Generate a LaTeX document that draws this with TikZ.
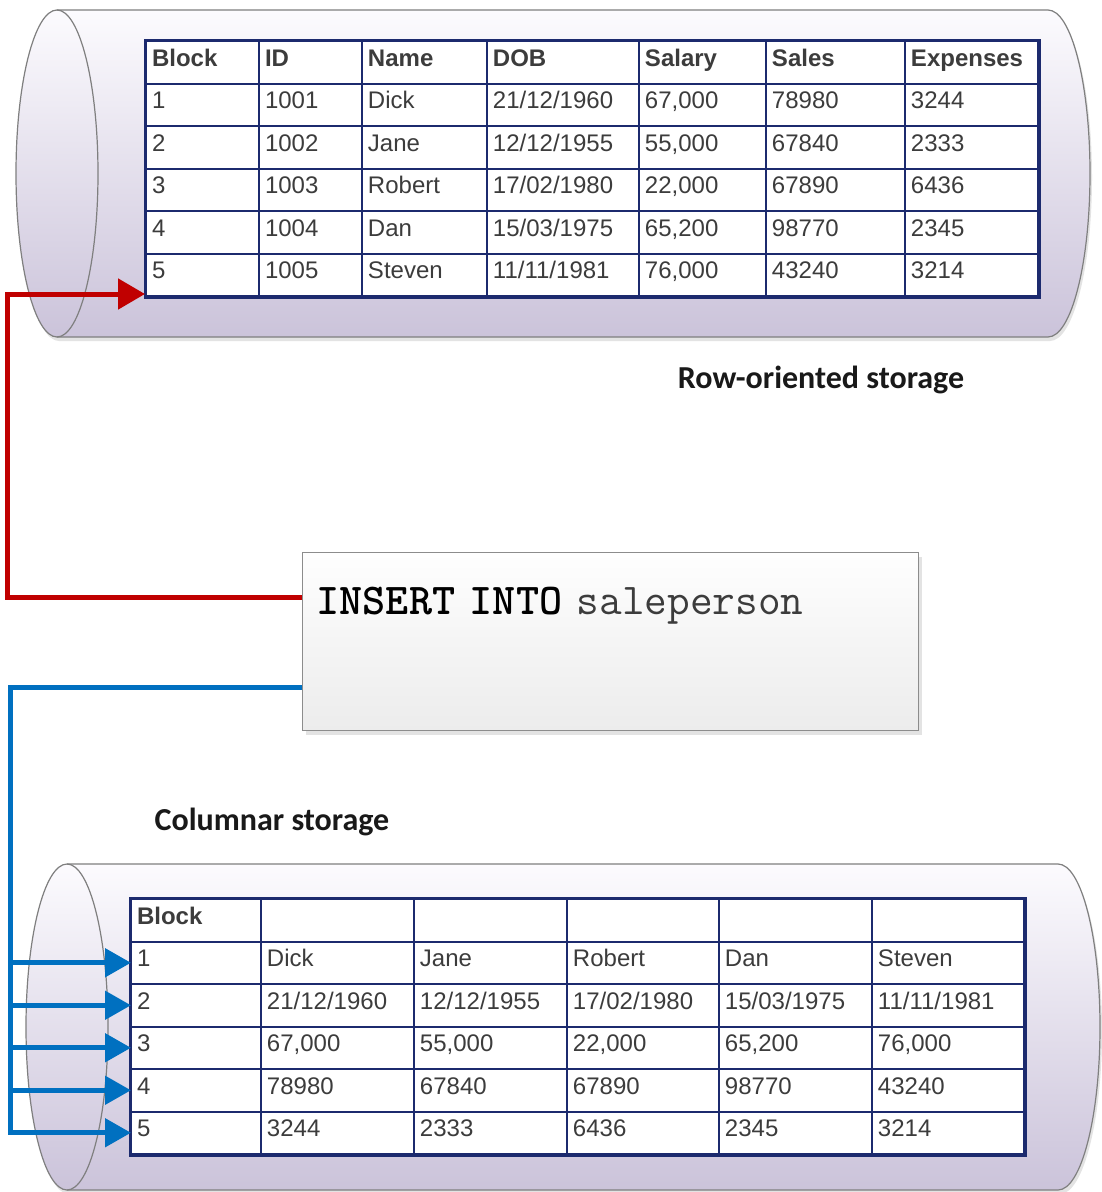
\documentclass[tikz,border=0pt]{standalone}
\usepackage{fontspec}
\setmainfont{Liberation Sans}
\newfontfamily\lblfont{Carlito}
\usepackage{tikz}
\usepackage{xcolor}
\usetikzlibrary{arrows.meta,positioning,matrix,calc,shadows}
\definecolor{tabnavy} {HTML}{1C2A6E}
\definecolor{cellink} {HTML}{3C3C3C}
\definecolor{drumtop} {HTML}{FCFBFE}
\definecolor{drumbot} {HTML}{CBC3DA}
\definecolor{drumline}{HTML}{7F7F7F}
\definecolor{qrytop}  {HTML}{FEFEFE}
\definecolor{qrybot}  {HTML}{ECECEC}
\definecolor{qryline} {HTML}{8C8C8C}
\definecolor{insred}  {HTML}{C00000}
\definecolor{insblue} {HTML}{0070C0}
\tikzset{
  cell/.style    ={draw=tabnavy, line width=2pt, fill=white, outer sep=0pt,
                   inner xsep=6pt, inner ysep=8pt, text height=17pt, text depth=9.5pt,
                   align=left, font=\fontsize{24}{28}\selectfont, text=cellink},
  tabmat/.style  ={matrix of nodes, nodes in empty cells, nodes={cell},
                   draw=tabnavy, line width=3pt, inner sep=0pt, outer sep=0pt,
                   column sep=-2pt, row sep=-2pt, anchor=north west,
                   row 1/.style={nodes={font=\fontsize{24}{28}\selectfont\bfseries}}},
  drum/.style    ={draw=drumline, line width=1.2pt, top color=drumtop, bottom color=drumbot,
                   drop shadow={shadow xshift=2pt, shadow yshift=-4pt, opacity=0.22}},
  qrybox/.style  ={draw=qryline, line width=1.2pt, top color=qrytop, bottom color=qrybot,
                   drop shadow={shadow xshift=3pt, shadow yshift=-4pt, opacity=0.22},
                   anchor=north west, inner xsep=14pt, inner ysep=0pt,
                   text width=588pt, text height=62pt, text depth=116pt, align=left,
                   font=\ttfamily\fontsize{44}{46}\selectfont},
  lbl/.style     ={font=\lblfont\bfseries\fontsize{32}{36}\selectfont, text=black!90},
  redarr/.style  ={-{Triangle[length=27pt,width=30pt]}, line width=5pt, draw=insred},
  bluearr/.style ={-{Triangle[length=26pt,width=28pt]}, line width=5pt, draw=insblue},
}
\begin{document}
\begin{tikzpicture}[x=1pt,y=-1pt]
    \fill[white] (0,0) rectangle (1101,1192);
    \useasboundingbox (0,0) rectangle (1101,1192);

    % row-oriented drum
    \path[drum] (57,10) -- (1048,10) arc[start angle=90,end angle=-90,x radius=42pt,y radius=163.5pt]
      -- (57,337) arc[start angle=270,end angle=90,x radius=41pt,y radius=163.5pt] -- cycle;
    \draw[drumline,line width=1.2pt] (57,10) arc[start angle=90,end angle=-90,x radius=41pt,y radius=163.5pt];

    \matrix (rowtab) [tabmat,
        column 1/.style={nodes={text width=101pt}}, column 2/.style={nodes={text width=91pt}},
        column 3/.style={nodes={text width=113pt}}, column 4/.style={nodes={text width=140pt}},
        column 5/.style={nodes={text width=115pt}}, column 6/.style={nodes={text width=127pt}},
        column 7/.style={nodes={text width=121pt}}] at (145,40) {
      Block & ID   & Name   & DOB        & Salary & Sales & Expenses \\
      1     & 1001 & Dick   & 21/12/1960 & 67,000 & 78980 & 3244 \\
      2     & 1002 & Jane   & 12/12/1955 & 55,000 & 67840 & 2333 \\
      3     & 1003 & Robert & 17/02/1980 & 22,000 & 67890 & 6436 \\
      4     & 1004 & Dan    & 15/03/1975 & 65,200 & 98770 & 2345 \\
      5     & 1005 & Steven & 11/11/1981 & 76,000 & 43240 & 3214 \\
    };

    \node[lbl] (rowlbl) at (821,380) {Row-oriented storage};

    % query
    \node[qrybox] (ins) at (302,552) {\textbf{INSERT INTO} {\color{cellink}saleperson}};

    % columnar drum
    \node[lbl] (collbl) at (272,822) {Columnar storage};

    \path[drum] (67,864) -- (1058,864) arc[start angle=90,end angle=-90,x radius=42pt,y radius=163pt]
      -- (67,1190) arc[start angle=270,end angle=90,x radius=41pt,y radius=163pt] -- cycle;
    \draw[drumline,line width=1.2pt] (67,864) arc[start angle=90,end angle=-90,x radius=41pt,y radius=163pt];

    \matrix (coltab) [tabmat,
        column 1/.style={nodes={text width=118pt}}, column 2/.style={nodes={text width=141pt}},
        column 3/.style={nodes={text width=141pt}}, column 4/.style={nodes={text width=140pt}},
        column 5/.style={nodes={text width=141pt}}, column 6/.style={nodes={text width=140pt}}] at (130,898) {
      Block &            &            &            &            &            \\
      1     & Dick       & Jane       & Robert     & Dan        & Steven     \\
      2     & 21/12/1960 & 12/12/1955 & 17/02/1980 & 15/03/1975 & 11/11/1981 \\
      3     & 67,000     & 55,000     & 22,000     & 65,200     & 76,000     \\
      4     & 78980      & 67840      & 67890      & 98770      & 43240      \\
      5     & 3244       & 2333       & 6436       & 2345       & 3214       \\
    };

    % connectors
    \coordinate (redout)  at ($(ins.north west)+(0,45)$);
    \coordinate (redin)   at ($(rowtab.south west)+(0,-3)$);
    \coordinate (blueout) at ($(ins.south west)+(0,-44)$);
    \coordinate (trunk)   at ($(blueout)+(-292,0)$);

    \draw[redarr]  (redout) -- ++(-295,0) |- (redin);
    \draw[bluearr] (blueout) -- (trunk) |- (coltab-6-1.west);
    \foreach \r in {2,...,5}
      \draw[bluearr] (trunk |- coltab-\r-1.west) -- (coltab-\r-1.west);
  \end{tikzpicture}
\end{document}
